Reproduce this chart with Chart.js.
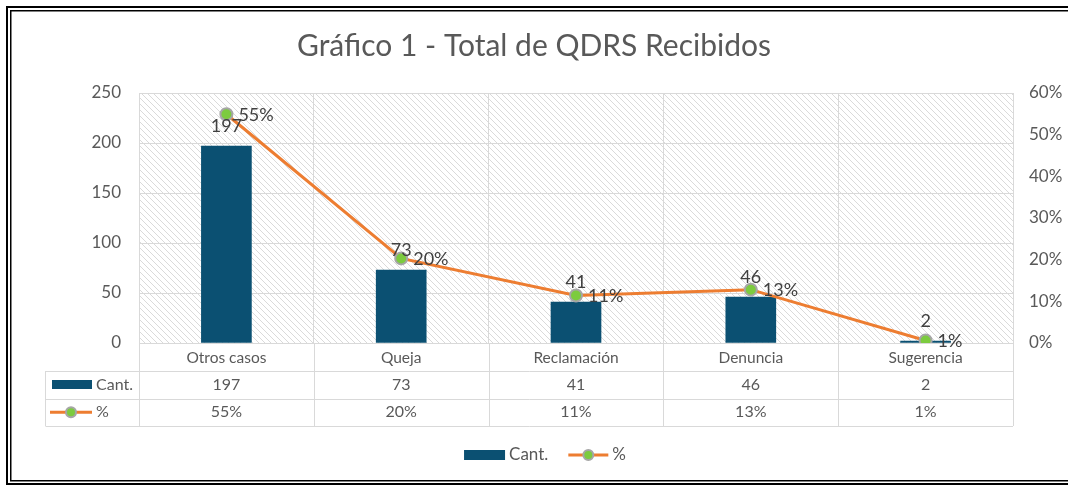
<!DOCTYPE html>
<html>
<head>
<meta charset="utf-8">
<script src="https://cdn.jsdelivr.net/npm/chart.js@4/dist/chart.umd.min.js"></script>
<style>
  html, body { margin: 0; padding: 0; background: #fff; }
  #wrap { position: relative; width: 1068px; height: 485px; }
</style>
</head>
<body>
<div id="wrap"><canvas id="qdrs-chart" width="1068" height="485"></canvas></div>
<script>
const categories = ['Otros casos', 'Queja', 'Reclamación', 'Denuncia', 'Sugerencia']
const cantidad = [197, 73, 41, 46, 2]
const porcentaje = [0.549, 0.203, 0.114, 0.128, 0.006]
const seriesNames = ['Cant.', '%']
const titleText = 'Gráfico 1 - Total de QDRS Recibidos'

const FONT = 'Lato, "Open Sans", sans-serif'
const TEXT = '#595959'
const GRID = '#D9D9D9'
const BAR = '#0B5072'
const LINE = '#ED7D31'
const MARK = '#7CCB3F'
const MARK_BORDER = '#A6A6A6'

const pct = v => Math.round(v * 100) + '%'

// diagonal hatch for the plot area
function hatchPattern (ctx) {
  const tile = document.createElement('canvas')
  tile.width = 6
  tile.height = 6
  const t = tile.getContext('2d')
  t.fillStyle = '#fff'
  t.fillRect(0, 0, 6, 6)
  t.strokeStyle = '#DADADA'
  t.lineWidth = 1
  for (let o of [-6, 0, 6]) {
    t.beginPath()
    t.moveTo(o, 0)
    t.lineTo(o + 6, 6)
    t.stroke()
  }
  return ctx.createPattern(tile, 'repeat')
}

function lineKey (ctx, x, y, w) {
  ctx.strokeStyle = LINE
  ctx.lineWidth = 3
  ctx.beginPath()
  ctx.moveTo(x, y)
  ctx.lineTo(x + w, y)
  ctx.stroke()
  ctx.fillStyle = MARK
  ctx.strokeStyle = MARK_BORDER
  ctx.lineWidth = 2
  ctx.beginPath()
  ctx.arc(x + w / 2, y, 5, 0, Math.PI * 2)
  ctx.fill()
  ctx.stroke()
}

const framePlugin = {
  id: 'frame',
  beforeDraw (chart) {
    const ctx = chart.ctx
    const a = chart.chartArea
    ctx.save()
    ctx.fillStyle = '#fff'
    ctx.fillRect(0, 0, chart.width, chart.height)
    ctx.strokeStyle = '#000'
    ctx.lineWidth = 2
    ctx.strokeRect(7, 7, 1080, 477)
    ctx.lineWidth = 1.5
    ctx.strokeRect(10.75, 10.75, 1080, 470)
    ctx.fillStyle = hatchPattern(ctx)
    ctx.fillRect(a.left, a.top, a.right - a.left, a.bottom - a.top)
    ctx.restore()
  }
}

const tablePlugin = {
  id: 'dataTable',
  afterDraw (chart) {
    const ctx = chart.ctx
    const a = chart.chartArea
    const x = chart.scales.x
    const step = (a.right - a.left) / categories.length
    const rowTop = a.bottom + 28
    const rowH = 27.5
    const tableLeft = 45.5
    const bottom = rowTop + rowH * 2

    ctx.save()
    ctx.strokeStyle = GRID
    ctx.lineWidth = 1
    ctx.beginPath()
    for (let r = 0; r < 3; r++) {
      const y = Math.round(rowTop + rowH * r) + 0.5
      ctx.moveTo(tableLeft, y)
      ctx.lineTo(a.right, y)
    }
    for (let i = 0; i <= categories.length; i++) {
      const lx = Math.round(a.left + step * i) + 0.5
      ctx.moveTo(lx, a.bottom)
      ctx.lineTo(lx, bottom)
    }
    ctx.moveTo(tableLeft, rowTop)
    ctx.lineTo(tableLeft, bottom)
    ctx.stroke()

    // row values
    ctx.fillStyle = TEXT
    ctx.font = '16px ' + FONT
    ctx.textAlign = 'center'
    ctx.textBaseline = 'middle'
    categories.forEach((c, i) => {
      const cx = x.getPixelForValue(i)
      ctx.fillText(String(cantidad[i]), cx, rowTop + rowH / 2)
      ctx.fillText(pct(porcentaje[i]), cx, rowTop + rowH * 1.5)
    })

    // row keys
    ctx.fillStyle = BAR
    ctx.fillRect(52, rowTop + 9, 40, 9)
    ctx.fillStyle = TEXT
    ctx.textAlign = 'left'
    ctx.fillText(seriesNames[0], 96, rowTop + rowH / 2)
    lineKey(ctx, 50, rowTop + rowH * 1.5, 42)
    ctx.fillStyle = TEXT
    ctx.fillText(seriesNames[1], 96, rowTop + rowH * 1.5)

    // data labels
    ctx.font = '18px ' + FONT
    ctx.fillStyle = '#404040'
    ctx.textAlign = 'center'
    chart.getDatasetMeta(1).data.forEach((el, i) => {
      ctx.fillText(String(cantidad[i]), el.x, el.y - 20)
    })
    ctx.textAlign = 'left'
    chart.getDatasetMeta(0).data.forEach((el, i) => {
      ctx.fillText(pct(porcentaje[i]), el.x + 12, el.y + 1)
    })

    // legend
    ctx.font = '17px ' + FONT
    const ly = 455
    const w1 = ctx.measureText(seriesNames[0]).width
    const w2 = ctx.measureText(seriesNames[1]).width
    const total = 41 + 4 + w1 + 20 + 40 + 4 + w2
    let lx = 545 - total / 2
    ctx.fillStyle = BAR
    ctx.fillRect(lx, ly - 5, 41, 10)
    lx += 45
    ctx.fillStyle = TEXT
    ctx.fillText(seriesNames[0], lx, ly)
    lx += w1 + 20
    lineKey(ctx, lx, ly, 40)
    lx += 44
    ctx.fillStyle = TEXT
    ctx.fillText(seriesNames[1], lx, ly)
    ctx.restore()
  }
}

Chart.defaults.font.family = FONT
Chart.defaults.color = TEXT

const ctx = document.getElementById('qdrs-chart').getContext('2d')
const qdrsChart = new Chart(ctx, {
  type: 'bar',
  data: {
    labels: categories,
    datasets: [
      {
        type: 'line',
        label: seriesNames[1],
        data: porcentaje,
        yAxisID: 'y1',
        borderColor: LINE,
        borderWidth: 3,
        pointBackgroundColor: MARK,
        pointBorderColor: MARK_BORDER,
        pointBorderWidth: 2,
        pointRadius: 6,
        tension: 0,
        order: 0
      },
      {
        label: seriesNames[0],
        data: cantidad,
        yAxisID: 'y',
        backgroundColor: BAR,
        barThickness: 50,
        order: 1
      }
    ]
  },
  options: {
    responsive: false,
    animation: false,
    devicePixelRatio: 1,
    layout: { padding: { top: 8, left: 0, right: 0, bottom: 114 } },
    plugins: {
      legend: { display: false },
      tooltip: { enabled: false },
      title: {
        display: true,
        text: titleText,
        color: TEXT,
        font: { size: 30, weight: 'normal', family: FONT },
        padding: { top: 20, bottom: 29 }
      }
    },
    scales: {
      x: {
        offset: true,
        grid: { offset: true, color: GRID, drawTicks: false },
        border: { color: GRID },
        ticks: { color: TEXT, font: { size: 15.5 }, padding: 6 },
        afterFit: s => { s.height = 28 }
      },
      y: {
        position: 'left',
        min: 0,
        max: 250,
        ticks: { stepSize: 50, color: TEXT, font: { size: 17 }, padding: 18 },
        grid: { color: GRID, drawTicks: false },
        border: { color: GRID },
        afterFit: s => { s.width = 139 }
      },
      y1: {
        position: 'right',
        min: 0,
        max: 0.6,
        ticks: { stepSize: 0.1, color: TEXT, font: { size: 17 }, padding: 16, callback: v => pct(v) },
        grid: { drawOnChartArea: false, drawTicks: false },
        border: { display: false },
        afterFit: s => { s.width = 55 }
      }
    }
  },
  plugins: [framePlugin, tablePlugin]
})
</script>
</body>
</html>
